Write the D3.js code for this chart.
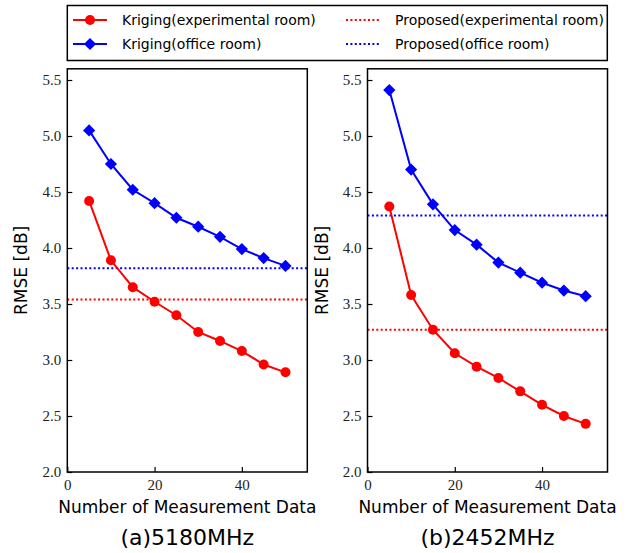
<!DOCTYPE html>
<html>
<head>
<meta charset="utf-8">
<script src="https://cdn.jsdelivr.net/npm/d3@7"></script>
<style>
  body { margin: 0; background: #fff; }
  svg { display: block; }
  .tick text { font-family: 'Liberation Serif', 'DejaVu Serif', serif; }
</style>
</head>
<body>
<svg id="chart" width="636" height="553"></svg>
<script>
// measurement counts on the x axis
const counts = [5, 10, 15, 20, 25, 30, 35, 40, 45, 50];

// (a) 5180MHz
const krigExpA = [4.42, 3.89, 3.65, 3.52, 3.40, 3.25, 3.17, 3.08, 2.96, 2.89];
const krigOfficeA = [5.05, 4.75, 4.52, 4.40, 4.27, 4.19, 4.10, 3.99, 3.91, 3.84];
const propExpA = 3.54;
const propOfficeA = 3.82;

// (b) 2452MHz
const krigExpB = [4.37, 3.58, 3.27, 3.06, 2.94, 2.84, 2.72, 2.60, 2.50, 2.43];
const krigOfficeB = [5.41, 4.70, 4.39, 4.16, 4.03, 3.87, 3.78, 3.69, 3.62, 3.57];
const propExpB = 3.27;
const propOfficeB = 4.29;

const xTicks = [0, 20, 40];
const yTicks = [2.0, 2.5, 3.0, 3.5, 4.0, 4.5, 5.0, 5.5];
const panelTitles = ["(a)5180MHz", "(b)2452MHz"];
const legendLabels = ["Kriging(experimental room)", "Kriging(office room)",
                      "Proposed(experimental room)", "Proposed(office room)"];

const sans = "'DejaVu Sans', sans-serif";
const RED = "#ff0000", BLUE = "#0000ff";

const svg = d3.select("#chart");

const plotTop = 68.8, plotBottom = 472, panelW = 240;
const panelLefts = [67.3, 367.5];

const panels = [
  { exp: krigExpA, office: krigOfficeA, pExp: propExpA, pOffice: propOfficeA },
  { exp: krigExpB, office: krigOfficeB, pExp: propExpB, pOffice: propOfficeB }
];

const diamond = d3.symbol().type(d3.symbolDiamond2).size(95);

panels.forEach((p, i) => {
  const left = panelLefts[i];
  const x = d3.scaleLinear().domain([0, 55]).range([left, left + panelW]);
  const y = d3.scaleLinear().domain([2.0, 5.6]).range([plotBottom, plotTop]);

  const g = svg.append("g");

  // horizontal reference lines (proposed method)
  [[p.pOffice, BLUE], [p.pExp, RED]].forEach(([v, c]) => {
    g.append("line")
      .attr("x1", x(0)).attr("x2", x(55))
      .attr("y1", y(v)).attr("y2", y(v))
      .attr("stroke", c).attr("stroke-width", 2)
      .attr("stroke-dasharray", "2,2.4");
  });

  const line = d3.line().x((d, k) => x(counts[k])).y(d => y(d));

  // kriging office room (blue diamonds)
  g.append("path").datum(p.office)
    .attr("fill", "none").attr("stroke", BLUE).attr("stroke-width", 2)
    .attr("d", line);
  g.selectAll(".dia").data(p.office).enter().append("path")
    .attr("transform", (d, k) => `translate(${x(counts[k])},${y(d)})`)
    .attr("d", diamond).attr("fill", BLUE);

  // kriging experimental room (red circles)
  g.append("path").datum(p.exp)
    .attr("fill", "none").attr("stroke", RED).attr("stroke-width", 2)
    .attr("d", line);
  g.selectAll(".dot").data(p.exp).enter().append("circle")
    .attr("cx", (d, k) => x(counts[k])).attr("cy", d => y(d))
    .attr("r", 5).attr("fill", RED);

  // axes with inward ticks
  const xAxis = g.append("g")
    .attr("transform", `translate(0,${plotBottom})`)
    .call(d3.axisBottom(x).tickValues(xTicks).tickSize(-5).tickPadding(7).tickFormat(d3.format("d")));
  const yAxis = g.append("g")
    .attr("transform", `translate(${left},0)`)
    .call(d3.axisLeft(y).tickValues(yTicks).tickSize(-5).tickPadding(6).tickFormat(d3.format(".1f")));
  [xAxis, yAxis].forEach(a => {
    a.attr("font-family", null).attr("font-size", null);
    a.select(".domain").remove();
    a.selectAll(".tick line").attr("stroke", "#000").attr("stroke-width", 1.2);
    a.selectAll(".tick text").style("font-size", "15px").attr("fill", "#222");
  });

  // frame
  g.append("rect")
    .attr("x", left).attr("y", plotTop)
    .attr("width", panelW).attr("height", plotBottom - plotTop)
    .attr("fill", "none").attr("stroke", "#000").attr("stroke-width", 1.5);

  // labels
  g.append("text")
    .attr("x", left + panelW / 2).attr("y", 513)
    .attr("text-anchor", "middle")
    .attr("font-family", sans).attr("font-size", 17)
    .text("Number of Measurement Data");

  g.append("text")
    .attr("x", left + panelW / 2).attr("y", 545)
    .attr("text-anchor", "middle")
    .attr("font-family", sans).attr("font-size", 22)
    .text(panelTitles[i]);

  g.append("text")
    .attr("transform", `translate(${left - 40},${(plotTop + plotBottom) / 2}) rotate(-90)`)
    .attr("text-anchor", "middle")
    .attr("font-family", sans).attr("font-size", 17)
    .text("RMSE [dB]");
});

// legend across the top
const legend = svg.append("g");
legend.append("rect")
  .attr("x", 67.3).attr("y", 5.5)
  .attr("width", 540).attr("height", 55)
  .attr("fill", "#fff").attr("stroke", "#000").attr("stroke-width", 1.5);

const items = [
  { label: legendLabels[0], color: RED, marker: "circle", dotted: false, col: 0, row: 0 },
  { label: legendLabels[1], color: BLUE, marker: "diamond", dotted: false, col: 0, row: 1 },
  { label: legendLabels[2], color: RED, marker: null, dotted: true, col: 1, row: 0 },
  { label: legendLabels[3], color: BLUE, marker: null, dotted: true, col: 1, row: 1 }
];
const colX = [73, 346], rowY = [20, 44];

items.forEach(it => {
  const hx = colX[it.col], hy = rowY[it.row];
  legend.append("line")
    .attr("x1", hx).attr("x2", hx + 34).attr("y1", hy).attr("y2", hy)
    .attr("stroke", it.color).attr("stroke-width", 2)
    .attr("stroke-dasharray", it.dotted ? "2,2.4" : null);
  if (it.marker === "circle") {
    legend.append("circle").attr("cx", hx + 17).attr("cy", hy).attr("r", 5).attr("fill", it.color);
  } else if (it.marker === "diamond") {
    legend.append("path").attr("transform", `translate(${hx + 17},${hy})`)
      .attr("d", diamond).attr("fill", it.color);
  }
  legend.append("text")
    .attr("x", hx + 49).attr("y", hy)
    .attr("dy", "0.35em")
    .attr("font-family", sans).attr("font-size", 14)
    .text(it.label);
});
</script>
</body>
</html>
